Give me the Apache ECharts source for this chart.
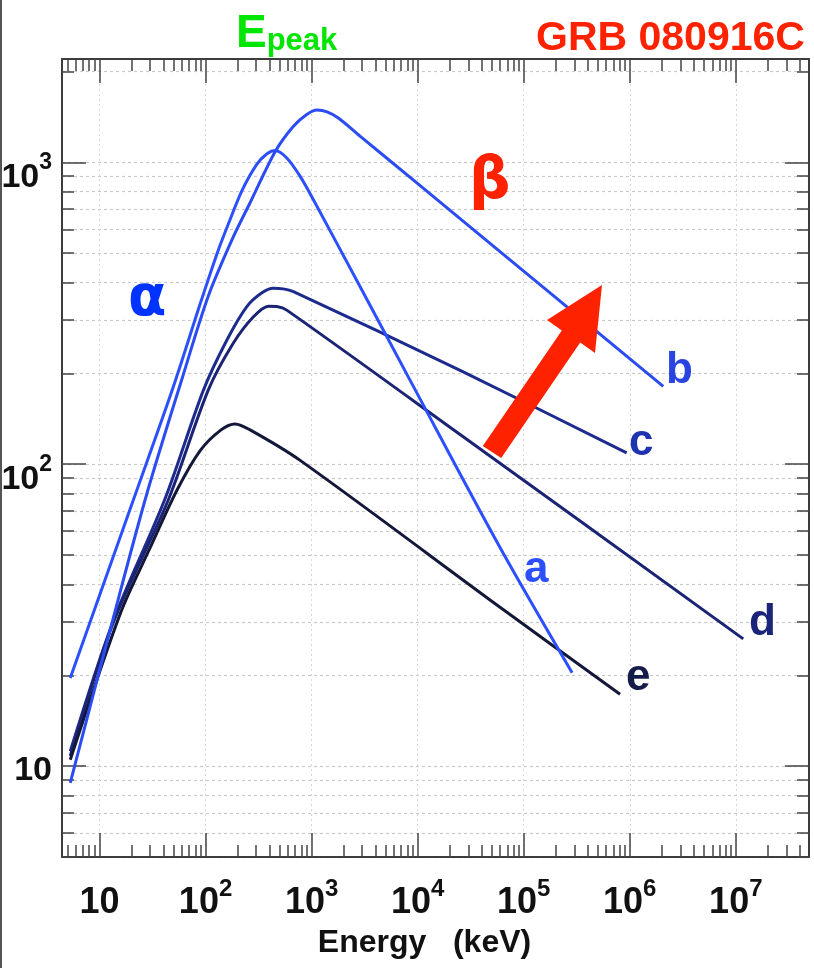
<!DOCTYPE html>
<html><head><meta charset="utf-8">
<script src="https://cdn.jsdelivr.net/npm/echarts@6/dist/echarts.min.js"></script>
<style>html,body{margin:0;padding:0;background:#fff}#c{width:814px;height:968px}</style>
</head><body><div id="c"></div>
<script>
// ---- data (Energy keV, flux) ----
const energyTicks = [10, 100, 1000, 10000, 100000, 1000000, 10000000];
const fluxTicks = [10, 100, 1000];
const curveNames = ['a', 'b', 'c', 'd', 'e'];

const aEnergy = [5.3, 20.8, 49.5, 89, 130, 164, 220, 304, 380, 453, 583, 780, 1040, 2860, 8470, 59800, 286000];
const aFlux   = [19.6, 76, 180, 340, 505, 625, 805, 985, 1068, 1094, 1034, 899, 752, 388, 190, 53, 20.4];

const bEnergy = [5.3, 13.5, 28, 60, 106, 180, 263, 453, 674, 900, 1119, 1400, 1800, 2860, 9820, 55600, 2070000];
const bFlux   = [8.8, 31, 80, 192, 360, 560, 735, 1085, 1317, 1440, 1490, 1470, 1400, 1222, 855, 517, 181];

const cEnergy = [5.3, 13.5, 41.6, 95.5, 159, 245, 340, 436, 540, 674, 26300, 935000];
const cFlux   = [11.2, 30.3, 77, 176, 258, 333, 370, 383, 381, 373, 203, 109];

const dEnergy = [5.3, 13.5, 44.4, 106, 183, 283, 392, 470, 583, 26300, 11750000];
const dFlux   = [10.8, 29.9, 76, 176, 252, 308, 334, 333, 324, 124, 26.4];

const eEnergy = [5.3, 15.7, 30.1, 53.7, 89, 140, 190, 263, 780, 59800, 810000];
const eFlux   = [10.5, 32, 53, 82, 111, 130, 136, 130, 103, 33.6, 17.3];

const X_MIN = 4.43, X_MAX = 4.9e7, Y_MIN = 5, Y_MAX = 2200;

// ---- helpers ----
function logSteps(lo, hi, withMajor) {
  const out = [];
  for (let d = 1; d <= 1e8; d *= 10) {
    for (let m = withMajor ? 1 : 2; m <= 9; m++) {
      const v = m * d;
      if (v >= lo && v <= hi) out.push(v);
    }
  }
  return out;
}
const xMinor = logSteps(X_MIN, X_MAX, false);
const yAll = logSteps(Y_MIN, Y_MAX, true);

const NUM_FONT = "'Liberation Sans', Arial, sans-serif";
const richX = {
  b: { fontFamily: NUM_FONT, fontWeight: 'bold', fontSize: 36, color: '#111', lineHeight: 52 },
  s: { fontFamily: NUM_FONT, fontWeight: 'bold', fontSize: 24, color: '#111', verticalAlign: 'top' }
};
const richY = {
  B: { fontFamily: NUM_FONT, fontWeight: 'bold', fontSize: 34, color: '#111', lineHeight: 64, verticalAlign: 'bottom' },
  B1: { fontFamily: NUM_FONT, fontWeight: 'bold', fontSize: 34, color: '#111', lineHeight: 42, verticalAlign: 'bottom' },
  s: { fontFamily: NUM_FONT, fontWeight: 'bold', fontSize: 23, color: '#111', verticalAlign: 'middle' }
};
function powLabelX(v) {
  const e = Math.round(Math.log10(v));
  return e === 1 ? '{b|10}' : '{b|10}{s|' + e + '}';
}
function powLabelY(v) {
  const e = Math.round(Math.log10(v));
  return e === 1 ? '{B1|10}' : '{B|10}{s|' + e + '}';
}
const frameLine = { show: true, lineStyle: { color: '#3c3c3c', width: 2 } };
const tickStyle = { color: '#444', width: 1.5 };

function xAxisDef(pos, major, withLabels) {
  return {
    type: 'log', logBase: 10, min: X_MIN, max: X_MAX, position: pos, gridIndex: 0,
    axisLine: major ? frameLine : { show: false },
    axisTick: { show: true, inside: true, length: major ? 24 : 12, lineStyle: tickStyle,
                customValues: major ? energyTicks : xMinor },
    axisLabel: withLabels ? { show: true, customValues: energyTicks, formatter: powLabelX, rich: richX, margin: 20 } : { show: false },
    splitLine: (major && pos === 'bottom') ? { show: true, lineStyle: { type: [2, 3], color: '#d8d8d8', width: 1 } } : { show: false },
    minorTick: { show: false }, minorSplitLine: { show: false }
  };
}
function yAxisDef(pos, major, withLabels) {
  return {
    type: 'log', logBase: 10, min: Y_MIN, max: Y_MAX, position: pos, gridIndex: 0,
    axisLine: major ? frameLine : { show: false },
    axisTick: { show: true, inside: true, length: major ? 24 : 12, lineStyle: tickStyle,
                customValues: major ? fluxTicks : yAll },
    axisLabel: withLabels ? { show: true, customValues: fluxTicks, formatter: powLabelY, rich: richY, margin: 10 } : { show: false },
    splitLine: (!major && pos === 'left') ? { show: true, lineStyle: { type: [3, 3], color: '#cacaca', width: 1.2 } } : { show: false },
    minorTick: { show: false }, minorSplitLine: { show: false }
  };
}

const xAxes = [xAxisDef('bottom', true, true), xAxisDef('bottom', false, false), xAxisDef('top', true, false), xAxisDef('top', false, false)];
xAxes[0].name = 'Energy   (keV)';
xAxes[0].nameLocation = 'middle';
xAxes[0].nameGap = 70;
xAxes[0].nameTextStyle = { fontFamily: NUM_FONT, fontWeight: 'bold', fontSize: 32, color: '#111', padding: [0, 22, 0, 0] };
const yAxes = [yAxisDef('left', true, true), yAxisDef('left', false, false), yAxisDef('right', true, false), yAxisDef('right', false, false)];

const lineColors = ['#2d50ff', '#2a4cf2', '#1d2b8e', '#1b2474', '#131838'];
const curves = [[aEnergy, aFlux], [bEnergy, bFlux], [cEnergy, cFlux], [dEnergy, dFlux], [eEnergy, eFlux]];
const series = curves.map((c, i) => ({
  name: curveNames[i], type: 'line', xAxisIndex: 0, yAxisIndex: 0,
  data: c[0].map((e, k) => [e, c[1][k]]),
  showSymbol: false, symbol: 'none', smooth: 0.3,
  lineStyle: { color: lineColors[i], width: 3 },
  z: i < 2 ? 4 : 3, silent: true
}));

function letter(txt, x, y, color) {
  return { type: 'text', left: x, top: y, z: 10,
    style: { text: txt, fill: color, font: "bold 44px 'Liberation Sans', Arial" } };
}

const graphic = [
  { type: 'line', shape: { x1: 1, y1: 0, x2: 1, y2: 968 }, style: { stroke: '#555', lineWidth: 2 } },
  { type: 'text', left: 236, top: 2, z: 10, style: {
      text: '{E|E}{p|peak}', rich: {
        E: { fontFamily: "'Liberation Sans', Arial", fontWeight: 'bold', fontSize: 46, fill: '#00e600', lineHeight: 46 },
        p: { fontFamily: "'Liberation Sans', Arial", fontWeight: 'bold', fontSize: 31, fill: '#00e600', lineHeight: 46, verticalAlign: 'bottom', padding: [24, 0, 0, 0] }
      } } },
  { type: 'text', left: 536, top: 18, z: 10, style: { text: 'GRB 080916C', fill: '#ff2200', font: "bold 41px 'Liberation Sans', Arial" } },
  { type: 'text', left: 128, top: 272, z: 10, style: { text: 'α', fill: '#0033ff', font: "bold 56px 'DejaVu Sans'" } },
  { type: 'text', left: 469, top: 154, z: 10, style: { text: 'β', fill: '#ff2200', font: "bold 58px 'DejaVu Sans'" } },
  { type: 'polygon', z: 9, shape: { points: [[482.8, 446], [501.2, 458], [580.2, 342.5], [595, 353], [602, 285], [547, 320], [561.8, 330.5]] },
    style: { fill: '#ff2200' } },
  letter('a', 524, 548, '#2d50ff'),
  letter('b', 666, 349, '#2a44e0'),
  letter('c', 629, 421, '#1d33b0'),
  letter('d', 749, 601, '#1a2478'),
  letter('e', 626, 656, '#151c48')
];

const chart = echarts.init(document.getElementById('c'), null, { renderer: 'canvas' });
chart.setOption({
  animation: false,
  backgroundColor: '#fff',
  grid: { left: 62, right: 5, top: 59, bottom: 111, containLabel: false, outerBoundsMode: 'none', show: false },
  xAxis: xAxes,
  yAxis: yAxes,
  series: series,
  graphic: graphic
});
</script>
</body></html>
